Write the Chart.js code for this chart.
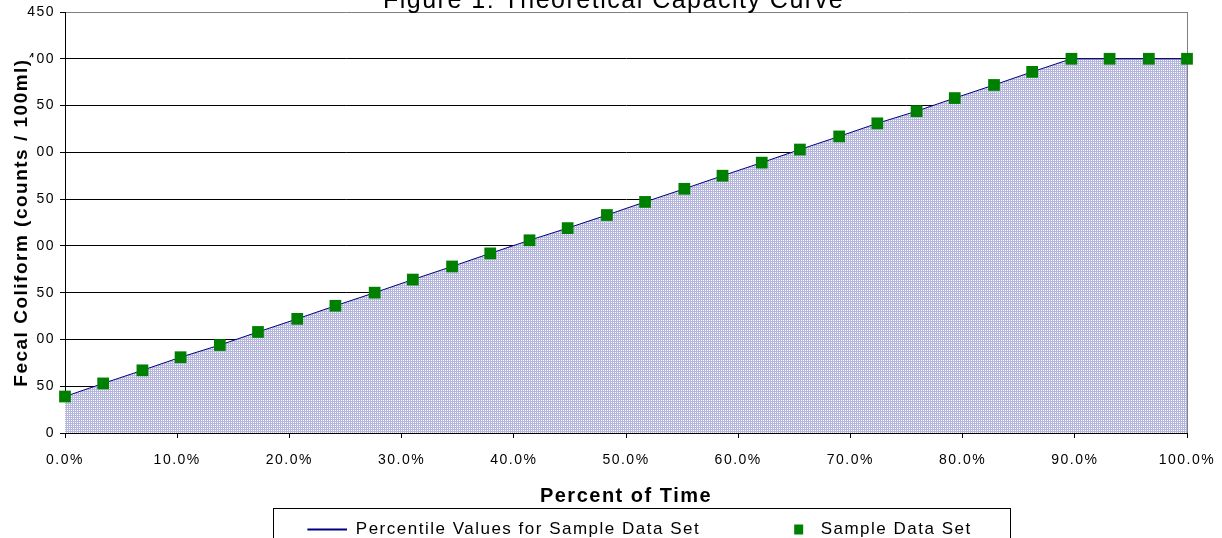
<!DOCTYPE html>
<html>
<head>
<meta charset="utf-8">
<script src="https://cdn.jsdelivr.net/npm/chart.js@4.4.1/dist/chart.umd.min.js"></script>
<style>
  html, body { margin: 0; padding: 0; background: #fff; overflow: hidden; }
  #wrap { position: relative; width: 1222px; height: 538px; overflow: hidden; }
  #myChart { position: absolute; left: 0; top: -17px; }
</style>
</head>
<body>
<div id="wrap"><canvas id="myChart" width="1222" height="565"></canvas></div>
<script>
// Data
percentOfTime = [0.0, 3.4, 6.9, 10.3, 13.8, 17.2, 20.7, 24.1, 27.6, 31.0,
                 34.5, 37.9, 41.4, 44.8, 48.3, 51.7, 55.2, 58.6, 62.1, 65.5,
                 69.0, 72.4, 75.9, 79.3, 82.8, 86.2, 89.7, 93.1, 96.6, 100.0];
sampleValues = [39, 53, 67, 81, 94, 108, 122, 136, 150, 164,
                178, 192, 206, 219, 233, 247, 261, 275, 289, 303,
                317, 331, 344, 358, 372, 386, 400, 400, 400, 400];
percentileValues = [39, 53, 67, 81, 94, 108, 122, 136, 150, 164,
                    178, 192, 206, 219, 233, 247, 261, 275, 289, 303,
                    317, 331, 344, 358, 372, 386, 400, 400, 400, 400];

chartTitle = 'Figure 1: Theoretical Capacity Curve';
xAxisTitle = 'Percent of Time';
yAxisTitle = 'Fecal Coliform (counts / 100ml)';
seriesNames = ['Percentile Values for Sample Data Set', 'Sample Data Set'];

const FONT = "'Liberation Sans', Arial, sans-serif";
Chart.defaults.font.family = FONT;
Chart.defaults.color = '#000';

function toPoints(xs, ys) {
  let pts = [];
  for (let i = 0; i < xs.length; i++) {
    pts.push({x: xs[i], y: ys[i]});
  }
  return pts;
}

// lavender dotted fill like the old excel pattern
function makePattern() {
  let c = document.createElement('canvas');
  c.width = 4; c.height = 4;
  let g = c.getContext('2d');
  g.fillStyle = '#b4b5dc';
  g.fillRect(0, 0, 4, 4);
  g.fillStyle = '#ffffff';
  g.fillRect(1, 1, 1, 1); g.fillRect(3, 1, 1, 1);
  g.fillRect(1, 3, 1, 1); g.fillRect(3, 3, 1, 1);
  return g.createPattern(c, 'repeat');
}

// legend symbols (drawn inside a wide box so the items sit where they do in the figure)
function legendIcon(kind) {
  let c = document.createElement('canvas');
  c.width = 102; c.height = 12;
  let g = c.getContext('2d');
  if (kind == 'line') {
    g.fillStyle = '#000080';
    g.fillRect(62, 5, 40, 2);
  } else {
    g.fillStyle = '#008000';
    g.fillRect(84, 1, 9, 10);
  }
  return c;
}
const lineIcon = legendIcon('line');
const squareIcon = legendIcon('square');

// excel text looks a bit spread out
const spacing = {
  id: 'spacing',
  beforeLayout(chart) { chart.ctx.letterSpacing = '1.5px'; },
  beforeDraw(chart) { chart.ctx.letterSpacing = '1.5px'; },
  // title and legend sit a little right of the canvas centre in the figure
  afterLayout(chart) {
    chart.legend.left += 15; chart.legend.right += 15;
    chart.titleBlock.left += 20; chart.titleBlock.right += 20;
  }
};

// y title sits over the tick labels with a white box
const yTitle = {
  id: 'yTitle',
  afterDraw(chart) {
    const ctx = chart.ctx;
    const area = chart.chartArea;
    ctx.save();
    ctx.font = 'bold 19px ' + FONT;
    ctx.letterSpacing = '1.5px';
    const w = ctx.measureText(yAxisTitle).width;
    ctx.translate(22, (area.top + area.bottom) / 2);
    ctx.rotate(-Math.PI / 2);
    ctx.fillStyle = '#fff';
    ctx.fillRect(-w / 2 - 1, -13, w + 2, 26);
    ctx.fillStyle = '#000';
    ctx.textAlign = 'center';
    ctx.textBaseline = 'middle';
    ctx.fillText(yAxisTitle, 0, 0);
    ctx.restore();
  }
};

// frame round the legend
const legendBorder = {
  id: 'legendBorder',
  afterDraw(chart) {
    const lg = chart.legend;
    const hb = lg.legendHitBoxes;
    if (!hb || !hb.length) return;
    const ctx = chart.ctx;
    const left = Math.round(hb[0].left + 28);
    const last = hb[hb.length - 1];
    const right = Math.round(last.left + last.width + 38);
    const top = Math.round(lg.top - 3);
    ctx.save();
    ctx.strokeStyle = '#000';
    ctx.lineWidth = 1;
    ctx.strokeRect(left + 0.5, top + 0.5, right - left, 80);
    ctx.restore();
  }
};

const data = {
  datasets: [
    {
      type: 'line',
      label: seriesNames[0],
      data: toPoints(percentOfTime, percentileValues),
      borderColor: '#000080',
      borderWidth: 1,
      backgroundColor: makePattern(),
      fill: 'origin',
      pointRadius: 0,
      tension: 0,
      order: 1
    },
    {
      type: 'scatter',
      label: seriesNames[1],
      data: toPoints(percentOfTime, sampleValues),
      backgroundColor: '#008000',
      borderColor: '#008000',
      borderWidth: 0,
      pointStyle: 'rect',
      pointRadius: 8.3,
      showLine: false,
      clip: false,
      order: 0
    }
  ]
};

const config = {
  type: 'line',
  data: data,
  plugins: [spacing, yTitle, legendBorder],
  options: {
    responsive: false,
    animation: false,
    layout: { padding: { left: 0, right: 35, top: 0, bottom: 0 } },
    plugins: {
      title: {
        display: true,
        text: chartTitle,
        color: '#000',
        font: { size: 25, weight: 'normal', lineHeight: 0.84 },
        padding: { top: 8, bottom: 0 }
      },
      legend: {
        position: 'bottom',
        labels: {
          usePointStyle: true,
          pointStyleWidth: 102,
          padding: 10,
          color: '#000',
          font: { size: 17 },
          generateLabels: function(chart) {
            let items = Chart.defaults.plugins.legend.labels.generateLabels(chart);
            items.sort(function(a, b) { return a.datasetIndex - b.datasetIndex; });
            items.forEach(function(it) {
              it.pointStyle = it.datasetIndex == 0 ? lineIcon : squareIcon;
            });
            return items;
          }
        }
      },
      tooltip: { enabled: false }
    },
    scales: {
      x: {
        type: 'linear',
        min: 0,
        max: 100,
        afterFit: function(scale) {
          scale.height = 78;
          scale.paddingLeft = 0;
          scale.paddingRight = 0;
        },
        ticks: {
          stepSize: 10,
          padding: 14,
          maxRotation: 0,
          autoSkip: false,
          color: '#000',
          font: { size: 14 },
          callback: function(v) { return v.toFixed(1) + '%'; }
        },
        grid: {
          color: function(ctx) { return ctx.tick && ctx.tick.value === 100 ? '#808080' : 'rgba(0,0,0,0)'; },
          tickColor: '#000',
          tickLength: 5,
          lineWidth: 1
        },
        border: { color: '#000', width: 1 },
        title: {
          display: true,
          text: xAxisTitle,
          color: '#000',
          font: { size: 20, weight: 'bold' },
          padding: { top: 0, bottom: 3 }
        }
      },
      y: {
        min: 0,
        max: 450,
        afterFit: function(scale) { scale.width = 65; },
        ticks: {
          stepSize: 50,
          padding: 5,
          color: '#000',
          font: { size: 14 }
        },
        grid: {
          color: function(ctx) { return ctx.tick && ctx.tick.value === 450 ? '#808080' : '#000'; },
          tickColor: '#000',
          tickLength: 5,
          lineWidth: 1
        },
        border: { color: '#000', width: 1 }
      }
    }
  }
};

const myChart = new Chart(document.getElementById('myChart'), config);
</script>
</body>
</html>
